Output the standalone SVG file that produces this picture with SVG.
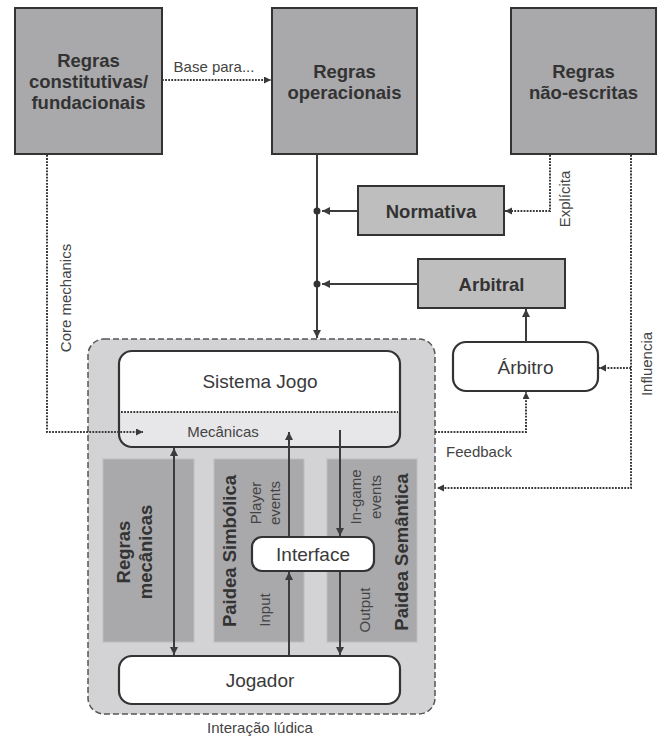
<svg xmlns="http://www.w3.org/2000/svg" width="659" height="738" viewBox="0 0 659 738">
<style>
text{font-family:"Liberation Sans",Arial,sans-serif;fill:#3a3a3a}
.b{font-weight:bold;font-size:18.5px;fill:#333}
.n{font-size:19px}
.s{font-size:15px;fill:#444}
.top{fill:#a9a9ab;stroke:#333;stroke-width:2}
.mid{fill:#bebebf;stroke:#333;stroke-width:2}
.rnd{fill:#fff;stroke:#333;stroke-width:2.2}
.panel{fill:#a9a9ab;stroke:#bdbdbd;stroke-width:1}
.sol{fill:none;stroke:#3c3c3c;stroke-width:2}
.dot{fill:none;stroke:#383838;stroke-width:2;stroke-dasharray:1.8 1.3}
</style>
<defs>
<marker id="ah" markerUnits="userSpaceOnUse" markerWidth="10" markerHeight="10" refX="8" refY="4" orient="auto"><path d="M0,0 L8,4 L0,8 Z" fill="#3c3c3c"/></marker>
<marker id="ahs" markerUnits="userSpaceOnUse" markerWidth="10" markerHeight="10" refX="8" refY="4" orient="auto-start-reverse"><path d="M0,0 L8,4 L0,8 Z" fill="#3c3c3c"/></marker>
<marker id="ad" markerUnits="userSpaceOnUse" markerWidth="10" markerHeight="10" refX="7" refY="3.5" orient="auto"><path d="M0,0 L7,3.5 L0,7 Z" fill="#383838"/></marker>
</defs>

<g id="interacao">
<rect x="88" y="339" width="347" height="375" rx="16" fill="#d3d3d5" stroke="#555" stroke-width="1.5" stroke-dasharray="6 3"/>
<text class="s" x="260" y="733" text-anchor="middle">Interação lúdica</text>
</g>

<g id="regras-constitutivas">
<rect class="top" x="15" y="8" width="147" height="146"/>
<text class="b" x="88.5" y="67" text-anchor="middle">Regras</text>
<text class="b" x="88.5" y="88" text-anchor="middle">constitutivas/</text>
<text class="b" x="88.5" y="109" text-anchor="middle">fundacionais</text>
</g>
<g id="regras-operacionais">
<rect class="top" x="272" y="8" width="145" height="146"/>
<text class="b" x="344.5" y="78" text-anchor="middle">Regras</text>
<text class="b" x="344.5" y="99" text-anchor="middle">operacionais</text>
</g>
<g id="regras-nao-escritas">
<rect class="top" x="511" y="8" width="145" height="146"/>
<text class="b" x="583.5" y="78" text-anchor="middle">Regras</text>
<text class="b" x="583.5" y="99" text-anchor="middle">não-escritas</text>
</g>
<g id="normativa">
<rect class="mid" x="358" y="186" width="146" height="49"/>
<text class="b" x="431" y="218" text-anchor="middle">Normativa</text>
</g>
<g id="arbitral">
<rect class="mid" x="418" y="259" width="147" height="49"/>
<text class="b" x="491.5" y="291" text-anchor="middle">Arbitral</text>
</g>
<g id="arbitro">
<rect class="rnd" x="453" y="342" width="145" height="49" rx="13"/>
<text class="n" x="525.5" y="374" text-anchor="middle">Árbitro</text>
</g>

<g id="sistema-jogo">
<rect x="119" y="351" width="281" height="96" rx="13" fill="#fff"/>
<path d="M119,412 H400 V434 A13,13 0 0 1 387,447 H132 A13,13 0 0 1 119,434 Z" fill="#e7e7e9"/>
<line class="dot" x1="121" y1="412" x2="398" y2="412"/>
<rect x="119" y="351" width="281" height="96" rx="13" fill="none" stroke="#333" stroke-width="2.2"/>
<text class="n" x="260" y="388" text-anchor="middle">Sistema Jogo</text>
<text class="s" x="223" y="437" text-anchor="middle">Mecânicas</text>
</g>

<g id="regras-mecanicas">
<rect class="panel" x="103" y="459" width="91" height="183"/>
<text class="b" transform="rotate(-90 130 552)" x="130" y="552" text-anchor="middle">Regras</text>
<text class="b" transform="rotate(-90 152 552)" x="152" y="552" text-anchor="middle">mecânicas</text>
</g>
<g id="paidea-simbolica">
<rect class="panel" x="214" y="459" width="90" height="183"/>
<text class="b" transform="rotate(-90 236 551)" x="236" y="551" text-anchor="middle">Paidea Simbólica</text>
<text class="s" transform="rotate(-90 261 503)" x="261" y="503" text-anchor="middle">Player</text>
<text class="s" transform="rotate(-90 280 503)" x="280" y="503" text-anchor="middle">events</text>
<text class="s" transform="rotate(-90 270 610)" x="270" y="610" text-anchor="middle">Input</text>
</g>
<g id="paidea-semantica">
<rect class="panel" x="327" y="459" width="90" height="183"/>
<text class="s" transform="rotate(-90 361 497)" x="361" y="497" text-anchor="middle">In-game</text>
<text class="s" transform="rotate(-90 381 497)" x="381" y="497" text-anchor="middle">events</text>
<text class="s" transform="rotate(-90 370 610)" x="370" y="610" text-anchor="middle">Output</text>
<text class="b" transform="rotate(-90 408 552)" x="408" y="552" text-anchor="middle">Paidea Semântica</text>
</g>

<g id="connectors">
<line class="dot" x1="162" y1="80" x2="271" y2="80" marker-end="url(#ad)"/>
<polyline class="dot" points="47,155 47,432 143,432" marker-end="url(#ad)"/>
<line class="sol" x1="317" y1="154" x2="317" y2="338" marker-end="url(#ah)"/>
<circle cx="317" cy="211" r="3.5" fill="#333"/>
<circle cx="317" cy="284" r="3.5" fill="#333"/>
<line class="sol" x1="358" y1="211" x2="322" y2="211" marker-end="url(#ah)"/>
<line class="sol" x1="418" y1="284" x2="322" y2="284" marker-end="url(#ah)"/>
<polyline class="dot" points="550,155 550,211 505,211" marker-end="url(#ad)"/>
<polyline class="dot" points="631,155 631,488 437,488" marker-end="url(#ad)"/>
<line class="dot" x1="631" y1="368" x2="599" y2="368" marker-end="url(#ad)"/>
<polyline class="dot" points="435,432 526,432 526,392" marker-end="url(#ad)"/>
<line class="sol" x1="526" y1="342" x2="526" y2="309" marker-end="url(#ah)"/>
<line class="sol" x1="174" y1="448" x2="174" y2="655" marker-start="url(#ahs)" marker-end="url(#ahs)"/>
<line class="sol" x1="289" y1="656" x2="289" y2="572" marker-end="url(#ah)"/>
<line class="sol" x1="289" y1="537" x2="289" y2="432" marker-end="url(#ah)"/>
<line class="sol" x1="340" y1="430" x2="340" y2="536" marker-end="url(#ah)"/>
<line class="sol" x1="340" y1="571" x2="340" y2="655" marker-end="url(#ah)"/>
<text class="s" x="214" y="72" text-anchor="middle">Base para...</text>
<text class="s" transform="rotate(-90 71 298)" x="71" y="298" text-anchor="middle">Core mechanics</text>
<text class="s" transform="rotate(-90 570 199)" x="570" y="199" text-anchor="middle">Explícita</text>
<text class="s" transform="rotate(-90 652 364)" x="652" y="364" text-anchor="middle">Influencia</text>
<text class="s" x="479" y="457" text-anchor="middle">Feedback</text>
</g>

<g id="interface">
<rect class="rnd" x="252" y="537" width="122" height="34" rx="10"/>
<text class="n" x="313" y="561" text-anchor="middle">Interface</text>
</g>
<g id="jogador">
<rect class="rnd" x="119" y="656" width="281" height="48" rx="13"/>
<text class="n" x="260" y="687" text-anchor="middle">Jogador</text>
</g>
</svg>
